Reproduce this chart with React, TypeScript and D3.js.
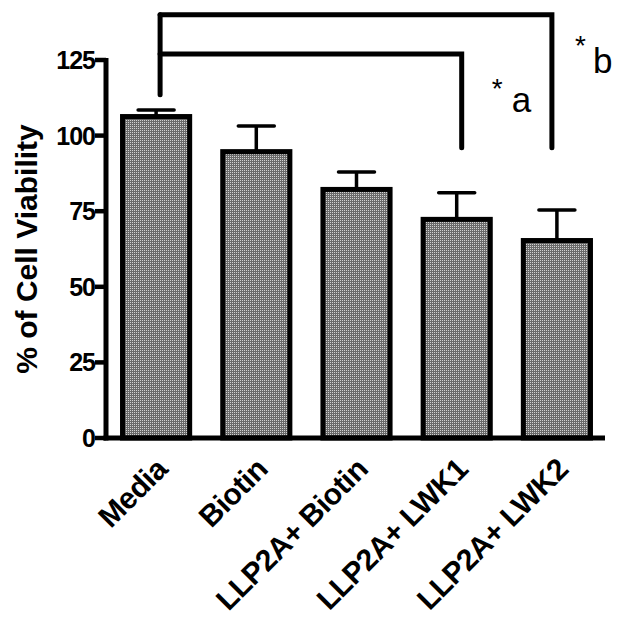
import React from "react";
import * as d3 from "d3";

const WIDTH = 624;
const HEIGHT = 618;

const categories = ["Media", "Biotin", "LLP2A+ Biotin", "LLP2A+ LWK1", "LLP2A+ LWK2"];
const viability = [106.3, 94.7, 82.2, 72.3, 65.3];
const sem = [2.2, 8.5, 5.8, 8.8, 10.1];
const yTicks = [0, 25, 50, 75, 100, 125];

// significance brackets: Media vs target, bracket height and leg bottom in data units
const brackets = [
  { from: "Media", to: "LLP2A+ LWK1", level: 127, legEnd: 96, toOffset: 5, starDx: 30, starDy: 44, tagDx: 50, star: "*", tag: "a" },
  { from: "Media", to: "LLP2A+ LWK2", level: 140, legEnd: 96, toOffset: -5, starDx: 23, starDy: 40, tagDx: 41, star: "*", tag: "b" },
];
const MEDIA_LEG_END = 113.5;

const X0 = 106;
const Y0 = 438;

const App = () => {
  const x = d3
    .scaleBand()
    .domain(categories)
    .range([X0, 607])
    .paddingInner(0.28)
    .paddingOuter(0.14);

  const y = d3.scaleLinear().domain([0, 125]).range([Y0, 60]);

  const bw = x.bandwidth();
  const cx = (c) => (x(c) ?? 0) + bw / 2;
  const font = "'Liberation Sans', Arial, Helvetica, sans-serif";
  const legX = cx("Media") + 4;

  return (
    <svg width={WIDTH} height={HEIGHT} style={{ position: "absolute", left: 0, top: 0 }}>
      <defs>
        <pattern id="dots" width={2} height={2} patternUnits="userSpaceOnUse">
          <rect width={2} height={2} fill="#6a6a6a" />
          <rect width={1} height={1} fill="#d2d2d2" />
        </pattern>
      </defs>
      <rect width={WIDTH} height={HEIGHT} fill="#fff" />

      {/* error bars, upper half only */}
      {categories.map((c, i) => (
        <g key={"err" + i} stroke="#000" strokeWidth={3.5}>
          <line x1={cx(c)} x2={cx(c)} y1={y(viability[i])} y2={y(viability[i] + sem[i])} />
          <line x1={cx(c) - 18} x2={cx(c) + 18} y1={y(viability[i] + sem[i])} y2={y(viability[i] + sem[i])} strokeLinecap="round" />
        </g>
      ))}

      {/* bars */}
      {categories.map((c, i) => (
        <rect
          key={"bar" + i}
          x={(x(c) ?? 0) + 2.5}
          width={bw - 5}
          y={y(viability[i])}
          height={Y0 - y(viability[i])}
          fill="url(#dots)"
          stroke="#000"
          strokeWidth={5}
        />
      ))}

      {/* y axis */}
      <line x1={X0} x2={X0} y1={y(125) - 2} y2={Y0 + 2.5} stroke="#000" strokeWidth={5} />
      {yTicks.map((t) => (
        <g key={"t" + t}>
          <line x1={X0 - 11} x2={X0} y1={y(t)} y2={y(t)} stroke="#000" strokeWidth={4.5} />
          <text
            x={X0 - 11}
            y={y(t)}
            dy="0.36em"
            textAnchor="end"
            fontFamily={font}
            fontWeight="bold"
            fontSize={25}
            letterSpacing={-1}
          >
            {t}
          </text>
        </g>
      ))}

      {/* x axis */}
      <line x1={X0 - 2.5} x2={605} y1={Y0} y2={Y0} stroke="#000" strokeWidth={5} />
      {categories.map((c) => (
        <text
          key={"lab" + c}
          transform={`translate(${cx(c) + 13},${Y0 + 33}) rotate(-45)`}
          textAnchor="end"
          fontFamily={font}
          fontWeight="bold"
          fontSize={30}
          letterSpacing={-0.5}
        >
          {c}
        </text>
      ))}

      {/* y title */}
      <text
        transform={`translate(37,${(y(125) + Y0) / 2}) rotate(-90)`}
        textAnchor="middle"
        fontFamily={font}
        fontWeight="bold"
        fontSize={30}
      >
        % of Cell Viability
      </text>

      {/* significance brackets */}
      <line
        x1={legX}
        x2={legX}
        y1={y(140)}
        y2={y(MEDIA_LEG_END)}
        stroke="#000"
        strokeWidth={5}
        strokeLinecap="round"
      />
      {brackets.map((b) => {
        const xb = cx(b.to) + b.toOffset;
        return (
          <g key={b.tag}>
            <path
              d={`M${legX},${y(b.level)}H${xb}V${y(b.legEnd)}`}
              fill="none"
              stroke="#000"
              strokeWidth={5}
              strokeLinecap="round"
            />
            <text x={xb + b.starDx} y={y(b.level) + b.starDy} fontFamily={font} fontSize={28}>
              {b.star}
            </text>
            <text x={xb + b.tagDx} y={y(b.level) + 58} fontFamily={font} fontSize={35}>
              {b.tag}
            </text>
          </g>
        );
      })}
    </svg>
  );
};

export default App;
